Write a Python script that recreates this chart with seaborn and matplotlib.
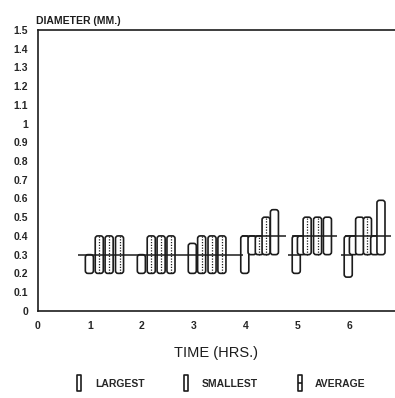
import matplotlib
matplotlib.use("Agg")
import matplotlib.pyplot as plt
import seaborn as sns
from matplotlib.patches import FancyBboxPatch
from matplotlib.lines import Line2D
from matplotlib.path import Path

# sampling times (hrs) and diameter range of each bar (mm)
hours = [0.99, 1.18, 1.37, 1.57,
         1.99, 2.18, 2.37, 2.56,
         2.97, 3.15, 3.35, 3.54,
         3.98, 4.12, 4.26, 4.39, 4.55,
         4.97, 5.07, 5.18, 5.38, 5.57,
         5.97, 6.07, 6.19, 6.34, 6.48, 6.60]
bar_low = [0.2, 0.2, 0.2, 0.2,
           0.2, 0.2, 0.2, 0.2,
           0.2, 0.2, 0.2, 0.2,
           0.2, 0.3, 0.3, 0.3, 0.3,
           0.2, 0.3, 0.3, 0.3, 0.3,
           0.18, 0.3, 0.3, 0.3, 0.3, 0.3]
bar_high = [0.3, 0.4, 0.4, 0.4,
            0.3, 0.4, 0.4, 0.4,
            0.36, 0.4, 0.4, 0.4,
            0.4, 0.4, 0.4, 0.5, 0.54,
            0.4, 0.4, 0.5, 0.5, 0.5,
            0.4, 0.4, 0.5, 0.5, 0.4, 0.59]
has_average = [False, True, True, True,
               False, True, True, True,
               False, True, True, True,
               False, False, True, True, False,
               False, False, True, True, False,
               False, False, False, True, False, False]

# horizontal reference levels
seg_start = [0.77, 3.92, 4.82, 4.88, 5.84, 5.90]
seg_end = [3.95, 4.78, 5.07, 5.75, 6.07, 6.80]
seg_level = [0.3, 0.4, 0.3, 0.4, 0.3, 0.4]

y_ticks = [round(0.1 * i, 1) for i in range(16)]
y_labels = ["0", "0.1", "0.2", "0.3", "0.4", "0.5", "0.6", "0.7", "0.8", "0.9",
            "1", "1.1", "1.2", "1.3", "1.4", "1.5"]
x_ticks = [0, 1, 2, 3, 4, 5, 6]
legend_labels = ["LARGEST", "SMALLEST", "AVERAGE"]

sns.set_style("white")
plt.rcParams["font.family"] = ["Liberation Sans", "DejaVu Sans"]
ink = "#1c1c1c"

fig = plt.figure(figsize=(3.95, 3.98), dpi=100)
ax = fig.add_axes([0.096, 0.219, 0.904, 0.706])

heights = [h - l for h, l in zip(bar_high, bar_low)]
bars = ax.bar(hours, heights, bottom=bar_low, width=0.155, color="white",
              edgecolor=ink, linewidth=1.2)

# swap plain rectangles for rounded ones
for rect in bars.patches:
    rect.set_visible(False)
    ax.add_patch(FancyBboxPatch((rect.get_x(), rect.get_y()), rect.get_width(), rect.get_height(),
                                boxstyle="round,pad=0,rounding_size=0.05", mutation_aspect=0.28,
                                facecolor="white", edgecolor=ink, linewidth=1.2, zorder=2))

avg_x = [x for x, a in zip(hours, has_average) if a]
avg_lo = [l for l, a in zip(bar_low, has_average) if a]
avg_hi = [h for h, a in zip(bar_high, has_average) if a]
ax.vlines(avg_x, avg_lo, avg_hi, colors=ink, linestyles=(0, (1, 1.2)), linewidth=0.9, zorder=3)

ax.hlines(seg_level, seg_start, seg_end, colors=ink, linewidth=1.1, zorder=4)

ax.set_xlim(0, 6.87)
ax.set_ylim(0, 1.5)
ax.set_xticks(x_ticks)
ax.set_xticklabels([str(t) for t in x_ticks], fontweight="bold", fontsize=7.5)
ax.set_yticks(y_ticks)
ax.set_yticklabels(y_labels, fontweight="bold", fontsize=7.5)
ax.tick_params(axis="both", direction="in", length=4, width=1, color=ink, pad=7)
ax.tick_params(axis="x", pad=7)
for side in ["left", "bottom", "top"]:
    ax.spines[side].set_color(ink)
    ax.spines[side].set_linewidth(1.2)
ax.spines["right"].set_visible(False)

ax.set_xlabel("TIME (HRS.)", fontsize=10.5, labelpad=11, color=ink)
ax.text(-0.005, 1.015, "DIAMETER (MM.)", transform=ax.transAxes, fontsize=7.5,
        fontweight="bold", ha="left", va="bottom", color=ink)

# legend markers: tall rounded box, and box with a middle bar for the average
box = Path([(-0.3, -1), (0.3, -1), (0.3, 1), (-0.3, 1), (-0.3, -1)],
           [Path.MOVETO, Path.LINETO, Path.LINETO, Path.LINETO, Path.CLOSEPOLY])
mid = Path([(-0.3, 0), (0.3, 0)], [Path.MOVETO, Path.LINETO])
box_avg = Path.make_compound_path(box, mid)
handles = [Line2D([], [], linestyle="none", marker=m, markersize=11, markerfacecolor="none",
                  markeredgecolor=ink, markeredgewidth=1.2)
           for m in [box, box, box_avg]]
fig.legend(handles, legend_labels, loc="lower center", bbox_to_anchor=(0.55, 0.0), ncol=3,
           frameon=False, prop={"size": 7.5, "weight": "bold"}, handletextpad=0.5,
           columnspacing=3.0)

fig.savefig("out.png", dpi=100)
